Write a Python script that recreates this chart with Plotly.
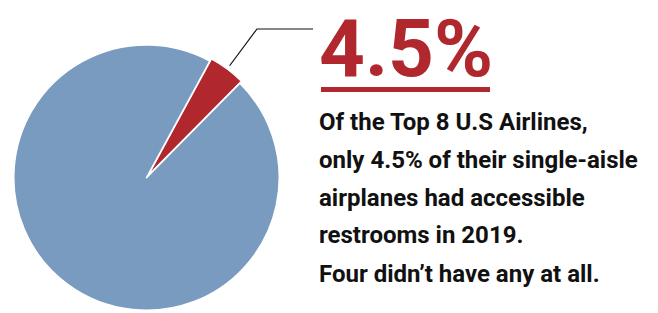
import math
import plotly.graph_objects as go

W, H = 658, 313

# Data
labels = ["Accessible restrooms", "No accessible restrooms"]
values = [4.5, 95.5]
colors = ["#B0272D", "#7A9BC0"]
headline = "4.5%"
body_lines = [
    "Of the Top 8 U.S Airlines,",
    "only 4.5% of their single-aisle",
    "airplanes had accessible",
    "restrooms in 2019.",
    "Four didn\u2019t have any at all.",
]

def px_x(x):
    return x / W

def px_y(y):
    return 1 - y / H

PULL = 0.02
ROT = 28.5
dom_x = [0.0169, 0.4284]
dom_y = [0.0, 0.865]

fig = go.Figure(go.Pie(
    labels=labels, values=values, sort=False, direction="clockwise",
    rotation=ROT, pull=[PULL, 0],
    marker=dict(colors=colors, line=dict(color="white", width=1.5)),
    textinfo="none", hoverinfo="label+percent", showlegend=False,
    domain=dict(x=dom_x, y=dom_y),
))

# pie geometry (px) for the leader line
cx = W * (dom_x[0] + dom_x[1]) / 2
cy = H * (1 - (dom_y[0] + dom_y[1]) / 2)
r = min(W * (dom_x[1] - dom_x[0]), H * (dom_y[1] - dom_y[0])) / (2 + 2 * PULL)
mid = math.radians(ROT + values[0] / sum(values) * 360 / 2)
rs = r * (1 + PULL) + 4
sx, sy = cx + rs * math.sin(mid), cy - rs * math.cos(mid)
ex, ey = 257, 29
fx = 313

shapes = [
    dict(type="path", xref="paper", yref="paper",
         path=f"M {px_x(sx)},{px_y(sy)} L {px_x(ex)},{px_y(ey)} L {px_x(fx)},{px_y(ey)}",
         line=dict(color="#111111", width=1.2)),
    dict(type="rect", xref="paper", yref="paper",
         x0=px_x(321), x1=px_x(490), y0=px_y(92), y1=px_y(87),
         fillcolor=colors[0], line=dict(width=0)),
]

FONT = "Roboto, Liberation Sans Narrow, Arial Narrow, sans-serif"
annotations = [
    dict(text=f"<b>{headline}</b>", xref="paper", yref="paper",
         x=px_x(317), y=px_y(0.5), xanchor="left", yanchor="top",
         showarrow=False, font=dict(family=FONT, size=80, color=colors[0])),
]
mids = [121.5, 159.5, 197.5, 235.5, 273.5]
for line, m in zip(body_lines, mids):
    annotations.append(dict(
        text=f"<b>{line}</b>", xref="paper", yref="paper",
        x=px_x(317), y=px_y(m), xanchor="left", yanchor="middle",
        showarrow=False, font=dict(family=FONT, size=24, color="#111111")))

fig.update_layout(
    width=W, height=H, margin=dict(l=0, r=0, t=0, b=0),
    paper_bgcolor="white", plot_bgcolor="white",
    shapes=shapes, annotations=annotations,
)
fig.write_html(
    "out.html",
    config={"displayModeBar": False},
    post_script="document.body.style.margin='0';"
                "document.documentElement.style.overflow='hidden';",
)
